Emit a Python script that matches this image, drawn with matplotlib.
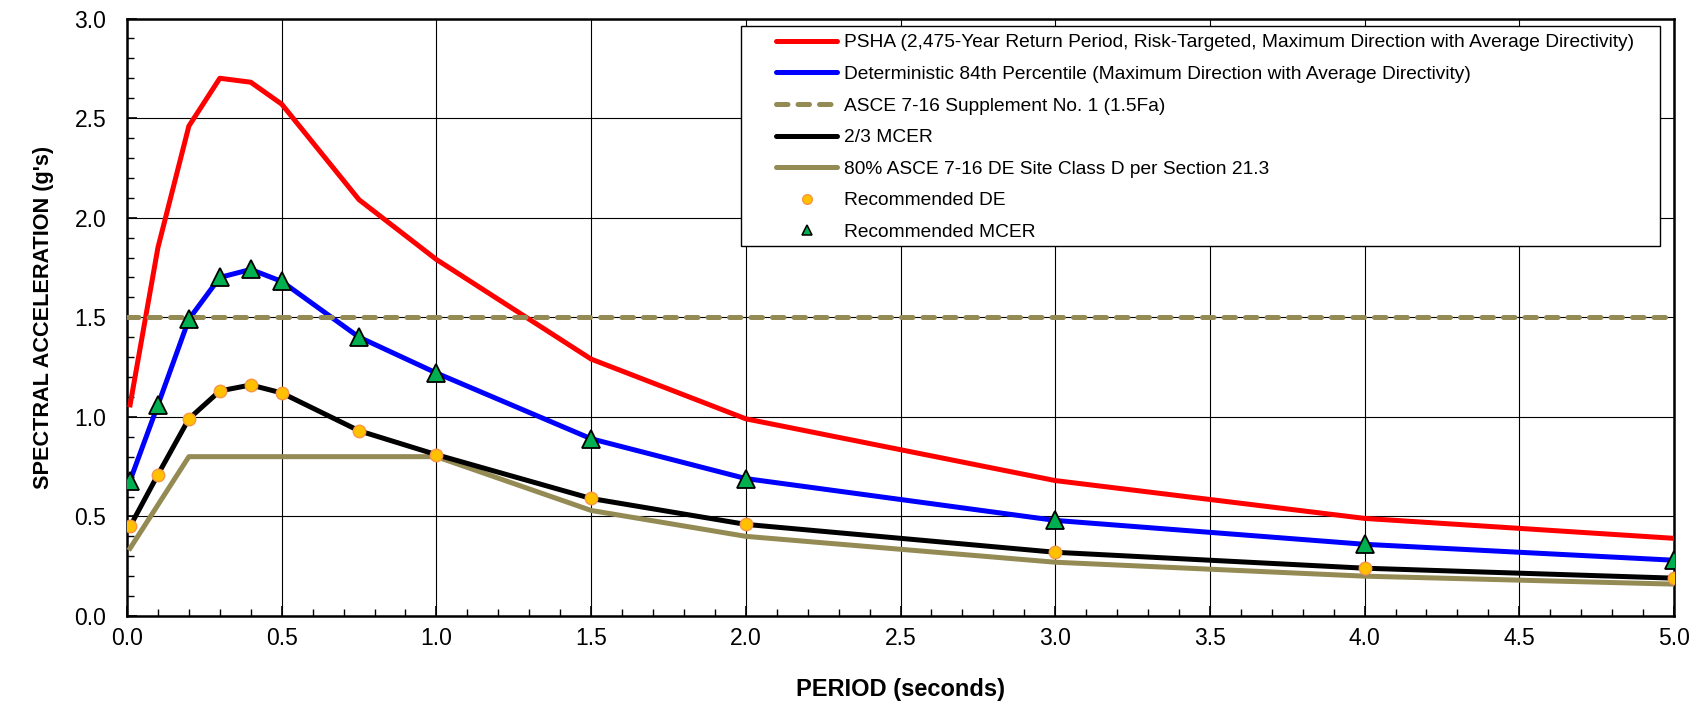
import matplotlib
matplotlib.use("Agg")
import matplotlib.pyplot as plt
from matplotlib.ticker import MultipleLocator, FormatStrFormatter
from matplotlib.patches import Rectangle

periods = [0.01, 0.1, 0.2, 0.3, 0.4, 0.5, 0.75, 1.0, 1.5, 2.0, 3.0, 4.0, 5.0]
psha = [1.06, 1.85, 2.46, 2.70, 2.68, 2.57, 2.09, 1.79, 1.29, 0.99, 0.68, 0.49, 0.39]
det84 = [0.68, 1.06, 1.49, 1.70, 1.74, 1.68, 1.40, 1.22, 0.89, 0.69, 0.48, 0.36, 0.28]
mcer23 = [0.45, 0.71, 0.99, 1.13, 1.16, 1.12, 0.93, 0.81, 0.59, 0.46, 0.32, 0.24, 0.19]
asce_sup_T = [0.0, 5.0]
asce_sup = [1.5, 1.5]
de80_T = [0.01, 0.2, 0.5, 1.0, 1.5, 2.0, 3.0, 4.0, 5.0]
de80 = [0.34, 0.80, 0.80, 0.80, 0.53, 0.40, 0.27, 0.20, 0.16]
rec_de = mcer23
rec_mcer = det84

labels = [
    "PSHA (2,475-Year Return Period, Risk-Targeted, Maximum Direction with Average Directivity)",
    "Deterministic 84th Percentile (Maximum Direction with Average Directivity)",
    "ASCE 7-16 Supplement No. 1 (1.5Fa)",
    "2/3 MCER",
    "80% ASCE 7-16 DE Site Class D per Section 21.3",
    "Recommended DE",
    "Recommended MCER",
]

plt.rcParams['font.family'] = ['Liberation Sans', 'DejaVu Sans']

W, H = 1701, 706
fig = plt.figure(figsize=(W / 100, H / 100), dpi=100)
ax = fig.add_axes([127 / W, 1 - 616 / H, (1674 - 127) / W, (616 - 18.5) / H])

gold = "#948A54"
lw = 3.6
ax.plot(periods, psha, color="#FF0000", lw=lw, label=labels[0], zorder=3)
ax.plot(periods, det84, color="#0000FF", lw=lw, label=labels[1], zorder=3)
ax.plot(asce_sup_T, asce_sup, color=gold, lw=lw, ls=(0, (2.3, 2.0)), dash_capstyle="round",
        label=labels[2], zorder=3)
ax.plot(periods, mcer23, color="black", lw=lw, label=labels[3], zorder=3)
ax.plot(de80_T, de80, color=gold, lw=lw, label=labels[4], zorder=2.9)
ax.plot(periods, rec_de, ls="none", marker="o", ms=9, mfc="#FFC000", mec="#F79646", mew=1,
        label=labels[5], zorder=4)
ax.plot(periods, rec_mcer, ls="none", marker="^", ms=12.5, mfc="#00B050", mec="black", mew=1.3,
        label=labels[6], zorder=4)

ax.set_xlim(0, 5)
ax.set_ylim(0, 3)
ax.xaxis.set_major_locator(MultipleLocator(0.5))
ax.xaxis.set_minor_locator(MultipleLocator(0.1))
ax.yaxis.set_major_locator(MultipleLocator(0.5))
ax.yaxis.set_minor_locator(MultipleLocator(0.1))
ax.xaxis.set_major_formatter(FormatStrFormatter("%.1f"))
ax.yaxis.set_major_formatter(FormatStrFormatter("%.1f"))
ax.tick_params(which="both", direction="in", top=False, right=False, labelsize=16.5)
ax.tick_params(which="major", length=7, width=1.2)
ax.tick_params(which="minor", length=5, width=1)
ax.tick_params(axis="x", which="major", pad=8)
ax.tick_params(axis="y", which="major", pad=15)
ax.grid(which="major", color="black", lw=0.8, zorder=0)
for s in ax.spines.values():
    s.set_linewidth(1.8)

ax.set_xlabel("PERIOD (seconds)", fontsize=17, fontweight="bold", labelpad=20)
ax.set_ylabel("SPECTRAL ACCELERATION (g's)", fontsize=15.6, fontweight="bold", labelpad=14.5)

leg = fig.legend(loc="upper left", bbox_to_anchor=(776 / W, 1 - 34 / H), prop={"size": 13.8},
                 frameon=False, handlelength=3.2, labelspacing=0.74, borderpad=0,
                 handletextpad=0.36, borderaxespad=0)
handles = leg.legend_handles
for h in handles[:5]:
    h.set_linewidth(3.6)
    h.set_solid_capstyle("round")
    h.set_dash_capstyle("round")
handles[5].set_markersize(7)
handles[6].set_markersize(7)
handles[6].set_markeredgewidth(1.1)

# legend frame with Excel-like asymmetric padding
fig.add_artist(Rectangle((741 / W, 1 - 246 / H), (1660 - 741) / W, (246 - 26) / H,
                         transform=fig.transFigure, facecolor="white", edgecolor="black",
                         lw=1.0, zorder=4.5))
leg.set_zorder(5)

fig.savefig("out.png", dpi=100)
